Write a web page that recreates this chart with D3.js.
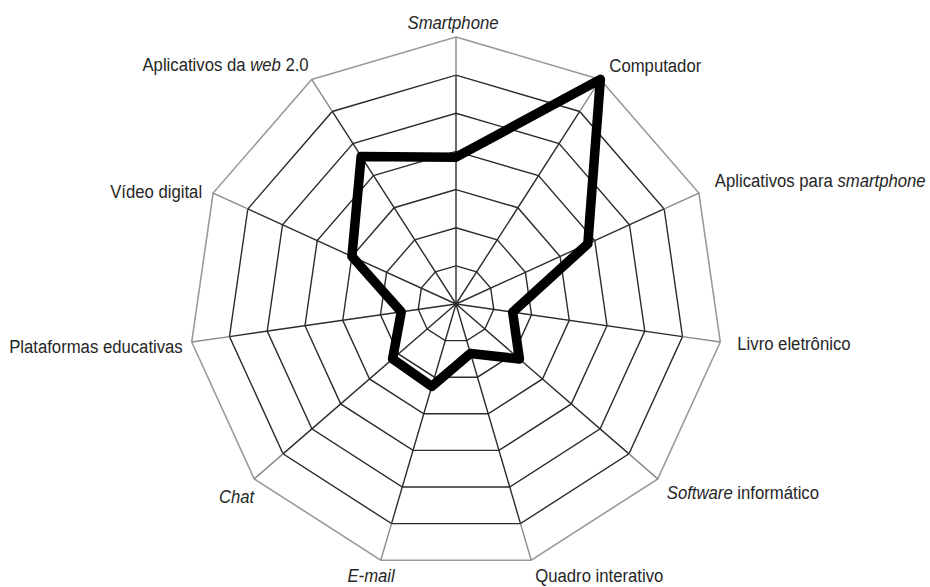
<!DOCTYPE html>
<html lang="pt">
<head>
<meta charset="utf-8">
<style>
  body { margin: 0; background: #fff; }
  svg text { font-family: "Liberation Sans", Arial, sans-serif; font-size: 19px; fill: #262626; }
</style>
</head>
<body>
<div id="viz"></div>
<script src="https://cdn.jsdelivr.net/npm/d3@7/dist/d3.min.js"></script>
<script>

// categories, clockwise from the top (*...* = italic)
var categories = [
  "*Smartphone*",
  "Computador",
  "Aplicativos para *smartphone*",
  "Livro eletrônico",
  "*Software* informático",
  "Quadro interativo",
  "*E-mail*",
  "*Chat*",
  "Plataformas educativas",
  "Vídeo digital",
  "Aplicativos da *web* 2.0"
];

var values = [3.85, 7, 3.8, 1.5, 2.2, 1.35, 2.25, 2.2, 1.45, 3.0, 4.6];

var levels = [1, 2, 3, 4, 5, 6, 7];

// label nudges from the outer vertex [dx, dy]
var labelNudge = [[-3, -8], [9, -7], [16, -6], [17, 8], [9, 20], [4, 22],
                  [14, 22], [0, 24], [-9, 11], [-11, 5], [-3, -8]];

var w = 930, h = 587;
var cx = 456, cy = 304, R = 267;

var svg = d3.select("#viz").append("svg")
  .attr("width", w)
  .attr("height", h);

var g = svg.append("g").attr("transform", "translate(" + cx + "," + cy + ")");

var maxLevel = d3.max(levels);
var r = d3.scaleLinear().domain([0, maxLevel]).range([0, R]);
var angle = d3.scalePoint().domain(d3.range(categories.length + 1)).range([0, 2 * Math.PI]);

function px(i, v){ return r(v) * Math.sin(angle(i)); }
function py(i, v){ return -r(v) * Math.cos(angle(i)); }

var ringLine = d3.lineRadial()
  .angle(function(d, i){ return angle(i); })
  .radius(function(d){ return r(d); })
  .curve(d3.curveLinearClosed);

// rings
g.selectAll(".ring")
  .data(levels)
  .enter().append("path")
  .attr("class", "ring")
  .attr("d", function(l){ return ringLine(categories.map(function(){ return l; })); })
  .style("fill", "none")
  .style("stroke", function(l){ return l == maxLevel ? "#9a9a9a" : "#2b2b2b"; })
  .style("stroke-width", function(l){ return l == maxLevel ? 1.6 : 1.4; });

// spokes (last segment lighter)
g.selectAll(".spoke")
  .data(categories)
  .enter().append("line")
  .attr("class", "spoke")
  .attr("x1", 0).attr("y1", 0)
  .attr("x2", function(d, i){ return px(i, maxLevel - 1); })
  .attr("y2", function(d, i){ return py(i, maxLevel - 1); })
  .style("stroke", "#2b2b2b")
  .style("stroke-width", 1.4);

g.selectAll(".spoke2")
  .data(categories)
  .enter().append("line")
  .attr("class", "spoke2")
  .attr("x1", function(d, i){ return px(i, maxLevel - 1); })
  .attr("y1", function(d, i){ return py(i, maxLevel - 1); })
  .attr("x2", function(d, i){ return px(i, maxLevel); })
  .attr("y2", function(d, i){ return py(i, maxLevel); })
  .style("stroke", "#8a8a8a")
  .style("stroke-width", 1.4);

// data line
g.append("path")
  .datum(values)
  .attr("d", ringLine)
  .style("fill", "none")
  .style("stroke", "#000")
  .style("stroke-width", 9.5)
  .style("stroke-linejoin", "round");

// labels (narrowed to look like a condensed face)
var lab = g.selectAll(".lab")
  .data(categories)
  .enter().append("text")
  .attr("class", "lab")
  .attr("transform", function(d, i){
    var x = px(i, maxLevel) + labelNudge[i][0];
    var y = py(i, maxLevel) + labelNudge[i][1];
    return "translate(" + x + "," + y + ") scale(0.88,1)";
  })
  .attr("text-anchor", function(d, i){
    var s = Math.sin(angle(i));
    return s > 0.05 ? "start" : (s < -0.05 ? "end" : "middle");
  });

lab.each(function(d){
  var t = d3.select(this);
  d.split("*").forEach(function(part, k){
    if (!part) return;
    t.append("tspan")
      .style("font-style", k % 2 ? "italic" : "normal")
      .text(part);
  });
});

</script>
</body>
</html>
